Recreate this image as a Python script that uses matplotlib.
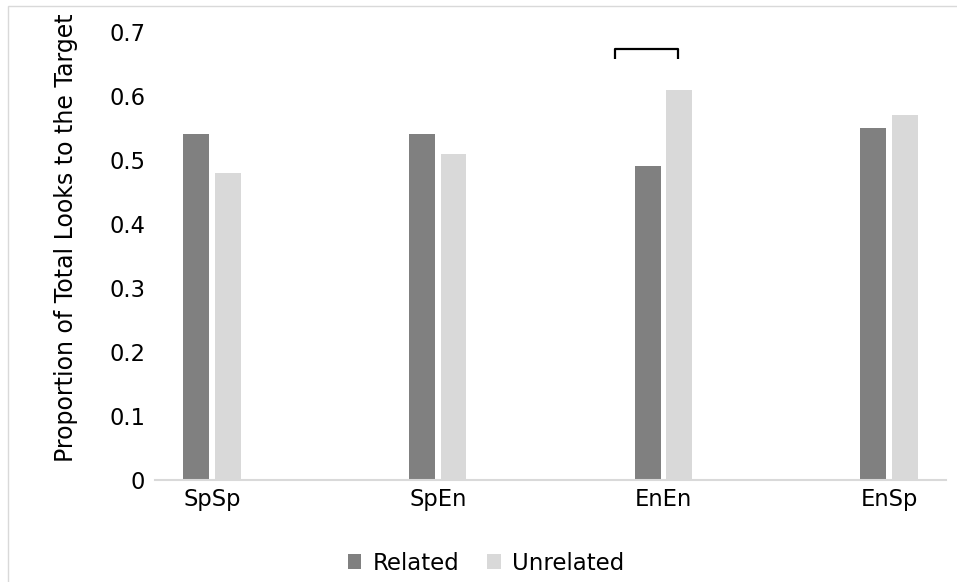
import matplotlib
matplotlib.use("Agg")
import matplotlib.pyplot as plt
from matplotlib.patches import Rectangle
import numpy as np

categories = ["SpSp", "SpEn", "EnEn", "EnSp"]
related = [0.54, 0.54, 0.49, 0.55]
unrelated = [0.48, 0.51, 0.61, 0.57]
yticks = [0, 0.1, 0.2, 0.3, 0.4, 0.5, 0.6, 0.7]
ytick_labels = ["0", "0.1", "0.2", "0.3", "0.4", "0.5", "0.6", "0.7"]

W, H = 957, 582
fig = plt.figure(figsize=(W / 100, H / 100), dpi=100)
ax = fig.add_axes([155 / W, 1 - 480 / H, (946 - 155) / W, (480 - 32) / H])

x = np.arange(len(categories))
bw = 0.115
off = 0.07
ax.bar(x - off, related, bw, color="#808080", label="Related")
ax.bar(x + off, unrelated, bw, color="#d9d9d9", label="Unrelated")

ax.set_xlim(-0.2525, 3.252)
ax.set_ylim(0, 0.7)
ax.set_yticks(yticks)
ax.set_yticklabels(ytick_labels)
ax.set_xticks(x)
ax.set_xticklabels(categories)
ax.tick_params(axis="both", length=0, labelsize=16.3, colors="#000000")
ax.tick_params(axis="y", pad=7)
ax.tick_params(axis="x", pad=6)
for s in ["top", "right", "left"]:
    ax.spines[s].set_visible(False)
ax.spines["bottom"].set_color("#d9d9d9")
ax.spines["bottom"].set_linewidth(1.5)

fig.text(66 / W, 1 - 238 / H, "Proportion of Total Looks to the Target",
         rotation=90, ha="center", va="center", fontsize=17)

# significance bracket
ax.plot([1.786, 1.786, 2.065, 2.065], [0.658, 0.673, 0.673, 0.658],
        color="black", lw=1.6, solid_capstyle="butt", clip_on=False)

leg = fig.legend(loc="center", bbox_to_anchor=(486 / W, 1 - 563 / H), ncol=2,
                 frameon=False, fontsize=16.5, handlelength=0.6, handleheight=0.6,
                 handletextpad=0.5, columnspacing=1.2)

fig.patches.append(Rectangle((8 / W, -0.1), 1.2, 1 - 6 / H + 0.1,
                             transform=fig.transFigure, fill=False,
                             edgecolor="#d9d9d9", lw=1))

fig.savefig("out.png", dpi=100)
